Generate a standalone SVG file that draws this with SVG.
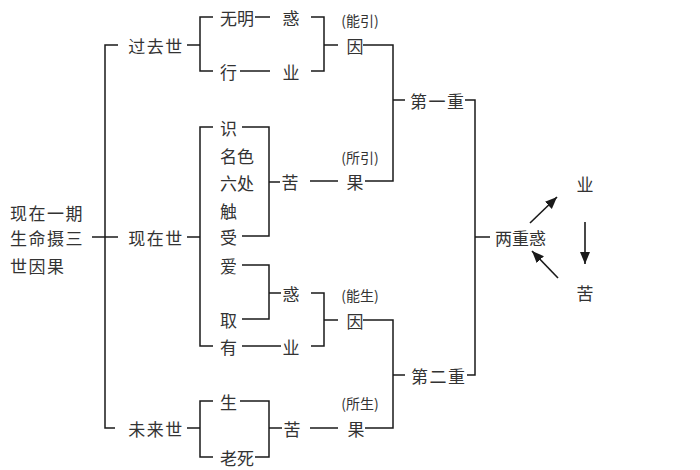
<svg xmlns="http://www.w3.org/2000/svg" width="700" height="470" viewBox="0 0 700 470">
<style>
text{font-family:"Noto Sans CJK SC","Noto Sans CJK TC",sans-serif;font-size:17px;fill:#333;dominant-baseline:central}
.m{text-anchor:middle}
.s{font-size:14px}
.w{letter-spacing:1.5px}
.c{fill:none;stroke:#1a1a1a;stroke-width:1.5}
.a{fill:none;stroke:#1a1a1a;stroke-width:1.6;marker-end:url(#ah)}
</style>
<defs>
<marker id="ah" markerUnits="userSpaceOnUse" markerWidth="14" markerHeight="12" refX="12" refY="5" orient="auto">
<path d="M0,0 L12,5 L0,10 Z" fill="#1a1a1a"/>
</marker>
</defs>
<rect width="700" height="470" fill="#fff"/>
<g id="connectors">
<path class="c" d="M118,45 H105 V428 H115"/>
<path class="c" d="M92,237 H118"/>
<path class="c" d="M187,45 H200"/>
<path class="c" d="M213,17 H200 V71 H213"/>
<path class="c" d="M255,17 H270"/>
<path class="c" d="M240,71 H270"/>
<path class="c" d="M311,17 H324 V71 H311"/>
<path class="c" d="M324,45 H338"/>
<path class="c" d="M363,45 H393 V181 H365"/>
<path class="c" d="M310,181 H338"/>
<path class="c" d="M269,182 H280"/>
<path class="c" d="M187,237 H200"/>
<path class="c" d="M213,127 H200 V346 H213"/>
<path class="c" d="M242,127 H269 V236 H242"/>
<path class="c" d="M242,265 H269 V319 H242"/>
<path class="c" d="M269,293 H281"/>
<path class="c" d="M311,293 H324 V346 H311"/>
<path class="c" d="M242,346 H281"/>
<path class="c" d="M324,320 H338"/>
<path class="c" d="M363,320 H393 V428 H365"/>
<path class="c" d="M310,428 H338"/>
<path class="c" d="M269,428 H282"/>
<path class="c" d="M187,428 H200"/>
<path class="c" d="M213,401 H200 V457 H213"/>
<path class="c" d="M240,401 H269 V457 H255"/>
<path class="c" d="M393,100 H405"/>
<path class="c" d="M393,375 H405"/>
<path class="c" d="M465,100 H475 V375 H467"/>
<path class="c" d="M475,237 H490"/>
<path class="a" d="M530,223 L557,197"/>
<path class="a" d="M558,278 L532,251"/>
<path class="a" d="M585,222 V264"/>
</g>
<g id="root"><text class="w" x="10" y="212">现在一期</text><text class="w" x="10" y="237">生命摄三</text><text class="w" x="10" y="265">世因果</text></g>
<g id="past"><text class="m w" x="156" y="45">过去世</text></g>
<g id="present"><text class="m w" x="156" y="237">现在世</text></g>
<g id="future"><text class="m w" x="156" y="428">未来世</text></g>
<g id="wuming"><text x="220" y="17">无明</text></g>
<g id="huo1"><text class="m" x="291" y="17">惑</text></g>
<g id="xing"><text x="220" y="71">行</text></g>
<g id="ye1"><text class="m" x="291" y="71">业</text></g>
<g id="yin1"><text class="m" x="355" y="45">因</text><text class="m s" x="360" y="20">(能引)</text></g>
<g id="shi"><text x="220" y="127">识</text></g>
<g id="mingse"><text x="220" y="155">名色</text></g>
<g id="liuchu"><text x="220" y="182">六处</text></g>
<g id="chu"><text x="220" y="210">触</text></g>
<g id="shou"><text x="220" y="236">受</text></g>
<g id="ku1"><text class="m" x="290" y="181">苦</text></g>
<g id="guo1"><text class="m" x="355" y="181">果</text><text class="m s" x="360" y="157">(所引)</text></g>
<g id="ai"><text x="220" y="265">爱</text></g>
<g id="qu"><text x="220" y="319">取</text></g>
<g id="huo2"><text class="m" x="291" y="293">惑</text></g>
<g id="you"><text x="220" y="346">有</text></g>
<g id="ye2"><text class="m" x="291" y="346">业</text></g>
<g id="yin2"><text class="m" x="355" y="320">因</text><text class="m s" x="360" y="295">(能生)</text></g>
<g id="sheng"><text x="220" y="401">生</text></g>
<g id="laosi"><text x="220" y="457">老死</text></g>
<g id="ku2"><text class="m" x="292" y="428">苦</text></g>
<g id="guo2"><text class="m" x="356" y="428">果</text><text class="m s" x="360" y="403">(所生)</text></g>
<g id="diyizhong"><text class="w" x="410" y="100">第一重</text></g>
<g id="dierzhong"><text class="w" x="411" y="375">第二重</text></g>
<g id="liangzhonghuo"><text x="495" y="237">两重惑</text></g>
<g id="ye3"><text class="m" x="585" y="183">业</text></g>
<g id="ku3"><text class="m" x="585" y="292">苦</text></g>
</svg>
